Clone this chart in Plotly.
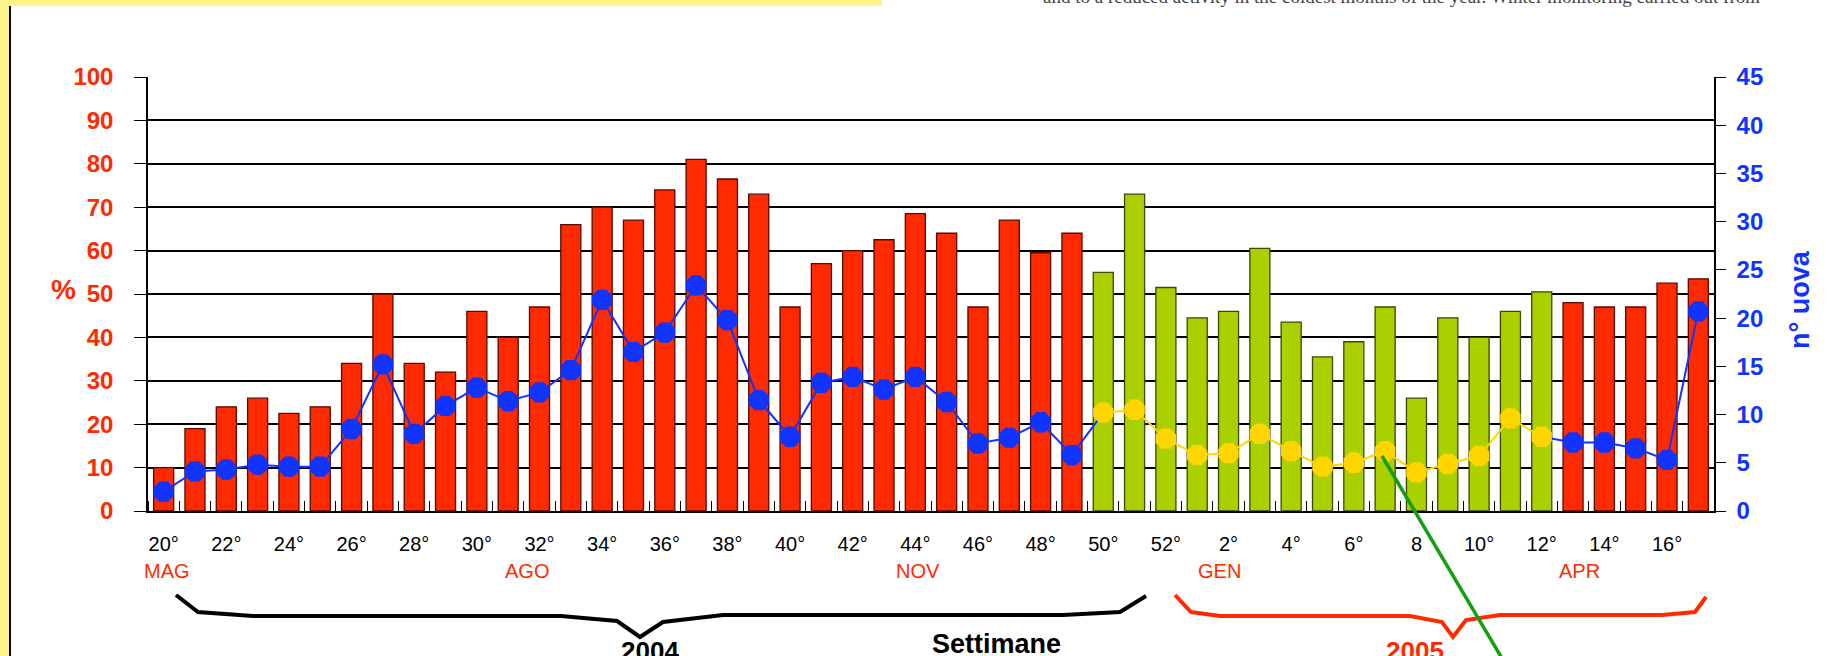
import plotly.graph_objects as go

# ---------------- data ----------------
weeks = list(range(20, 53)) + list(range(1, 18))          # 50 weekly categories (2004 wk20 .. 2005 wk17)
pct = [10, 19, 24, 26, 22.5, 24, 34, 50, 34, 32,
       46, 40, 47, 66, 70, 67, 74, 81, 76.5, 73,
       47, 57, 60, 62.5, 68.5, 64, 47, 67, 59.5, 64,
       55, 73, 51.5, 44.5, 46, 60.5, 43.5, 35.5, 39, 47,
       26, 44.5, 40, 46, 50.5, 48, 47, 47, 52.5, 53.5]
eggs = [2.0, 4.1, 4.3, 4.8, 4.6, 4.6, 8.5, 15.2, 8.0, 10.9,
        12.8, 11.4, 12.3, 14.6, 21.9, 16.5, 18.5, 23.4, 19.8, 11.5,
        7.7, 13.3, 13.9, 12.6, 13.9, 11.3, 7.0, 7.6, 9.2, 5.8,
        10.2, 10.5, 7.5, 5.8, 6.0, 8.0, 6.2, 4.6, 5.0, 6.2,
        4.0, 4.9, 5.7, 9.6, 7.7, 7.1, 7.1, 6.5, 5.3, 20.7]
winter = [False] * 30 + [True] * 15 + [False] * 5          # green bars / yellow points
tick_labels = ["20°", "22°", "24°", "26°", "28°", "30°", "32°", "34°", "36°", "38°",
               "40°", "42°", "44°", "46°", "48°", "50°", "52°",
               "2°", "4°", "6°", "8", "10°", "12°", "14°", "16°"]
months = ["MAG", "AGO", "NOV", "GEN", "APR"]
month_pos = [0.1, 11.6, 24.1, 33.7, 45.2]
years = ["2004", "2005"]

# ---------------- style ----------------
RED = "#FF2A00"
GREEN = "#AAD000"
BLUE = "#1133FF"
YELLOW = "#FFD500"
FONT = "Liberation Sans, Arial, sans-serif"

W, H = 1832, 656
L, R, T, B = 148, 1714, 77, 511            # plot-area pixel box


def px(x):
    return (x - L) / (R - L)


def py(y):
    return (B - y) / (B - T)


x = list(range(len(weeks)))

fig = go.Figure()

fig.add_trace(go.Bar(
    x=x, y=pct,
    marker=dict(color=[GREEN if w else RED for w in winter],
                line=dict(color=["#3d4800" if w else "#5a0800" for w in winter], width=1.3)),
    width=0.64, yaxis="y", showlegend=False))

keep_blue = [(not winter[i]) or (i > 0 and not winter[i - 1]) or (i < len(x) - 1 and not winter[i + 1])
             for i in x]
fig.add_trace(go.Scatter(
    x=x, y=[eggs[i] if keep_blue[i] else None for i in x], yaxis="y2",
    mode="lines", line=dict(color=BLUE, width=2), connectgaps=False, showlegend=False))
fig.add_trace(go.Scatter(
    x=x, y=[eggs[i] if winter[i] else None for i in x], yaxis="y2",
    mode="lines", line=dict(color=YELLOW, width=2), connectgaps=False, showlegend=False))
fig.add_trace(go.Scatter(
    x=x, y=eggs, yaxis="y2", mode="markers",
    marker=dict(size=22, symbol="octagon", color=[YELLOW if w else BLUE for w in winter],
                line=dict(width=0)),
    showlegend=False))

even_idx = [i for i in x if i % 2 == 0]

fig.update_layout(
    width=W, height=H, autosize=False,
    margin=dict(l=L, r=W - R, t=T, b=H - B, pad=0),
    paper_bgcolor="white", plot_bgcolor="white",
    bargap=0.36,
    font=dict(family=FONT),
    xaxis=dict(range=[-0.5, len(x) - 0.5], tickmode="array", tickvals=even_idx, ticktext=tick_labels,
               tickfont=dict(size=20, color="black"), ticks="", showgrid=False, zeroline=False,
               showline=True, linecolor="black", linewidth=2, mirror=False,
               ticklabelstandoff=14,
               minor=dict(tickmode="linear", tick0=-0.5, dtick=1, ticks="inside", ticklen=10,
                          tickcolor="black", tickwidth=1.3, showgrid=False)),
    yaxis=dict(range=[0, 100], dtick=10, tickfont=dict(size=24, color=RED, family=FONT),
               showgrid=True, gridcolor="black", gridwidth=1.5, zeroline=False,
               showline=True, linecolor="black", linewidth=1.5,
               ticks="outside", ticklen=12, tickcolor="black", tickwidth=1.3,
               ticklabelstandoff=16),
    yaxis2=dict(range=[0, 45], dtick=5, overlaying="y", side="right",
                tickfont=dict(size=24, color=BLUE, family=FONT), showgrid=False, zeroline=False,
                showline=True, linecolor="black", linewidth=1.5,
                ticks="outside", ticklen=10, tickcolor="black", tickwidth=1.3,
                ticklabelstandoff=6),
)

# bold tick labels
fig.update_yaxes(tickprefix="<b>", ticksuffix="</b>")

shapes = []
# yellow frame pieces (page background)
shapes.append(dict(type="rect", xref="paper", yref="paper", x0=px(0), x1=px(9), y0=py(H), y1=py(0),
                   fillcolor="#FFF48A", line=dict(width=0), layer="below"))
shapes.append(dict(type="rect", xref="paper", yref="paper", x0=px(0), x1=px(882), y0=py(6), y1=py(0),
                   fillcolor="#FFF48A", line=dict(width=0), layer="below"))
shapes.append(dict(type="line", xref="paper", yref="paper", x0=px(10), x1=px(10), y0=py(H), y1=py(6),
                   line=dict(color="black", width=2)))


def path(points):
    return "M " + " L ".join(f"{px(a):.5f},{py(b):.5f}" for a, b in points)


brace04 = [(176, 595), (198, 612), (253, 616), (561, 616), (617, 621), (640, 637), (663, 622),
           (723, 615), (1063, 615), (1120, 612), (1146, 596)]
brace05 = [(1175, 595), (1191, 612), (1220, 616), (1410, 616), (1442, 622), (1453, 637), (1466, 620),
           (1500, 615), (1662, 615), (1695, 612), (1706, 597)]
shapes.append(dict(type="path", xref="paper", yref="paper", path=path(brace04),
                   line=dict(color="black", width=4)))
shapes.append(dict(type="path", xref="paper", yref="paper", path=path(brace05),
                   line=dict(color=RED, width=4)))
# green pointer line overlaid on the page
shapes.append(dict(type="line", xref="paper", yref="paper", x0=px(1382), y0=py(456), x1=px(1503), y1=py(660),
                   line=dict(color="#10A010", width=3.5)))
fig.update_layout(shapes=shapes)

ann = []
for m, p in zip(months, month_pos):
    ann.append(dict(text=m, x=p, xref="x", y=py(571), yref="paper", showarrow=False,
                    font=dict(size=20, color=RED, family=FONT), xanchor="center", yanchor="middle"))
ann.append(dict(text="<b>%</b>", x=px(49), y=py(289), xref="paper", yref="paper", showarrow=False,
                font=dict(size=28, color=RED, family=FONT)))
ann.append(dict(text="<b>n° uova</b>", x=px(1800), y=py(300), xref="paper", yref="paper", showarrow=False,
                textangle=-90, xanchor="center", font=dict(size=27, color=BLUE, family=FONT)))
ann.append(dict(text="<b>Settimane</b>", x=px(996), y=py(627), xref="paper", yref="paper", showarrow=False,
                yanchor="top", font=dict(size=27, color="black", family=FONT)))
ann.append(dict(text=f"<b>{years[0]}</b>", x=px(619), y=py(634), xref="paper", yref="paper", showarrow=False,
                yanchor="top", font=dict(size=26, color="black", family=FONT)))
ann.append(dict(text=f"<b>{years[1]}</b>", x=px(1446), y=py(634), xref="paper", yref="paper", showarrow=False,
                yanchor="top", font=dict(size=26, color=RED, family=FONT)))
ann.append(dict(text="and to a reduced activity in the coldest months of the year. Winter monitoring carried out from",
                x=px(1762), y=py(-3), xref="paper", yref="paper", showarrow=False,
                xanchor="right", yanchor="middle",
                font=dict(size=19, color="#444444", family="Liberation Serif, Times New Roman, serif")))
fig.update_layout(annotations=ann)

fig.write_html("out.html", config={"displayModeBar": False},
               post_script="document.body.style.margin='0';document.body.style.overflow='hidden';")
